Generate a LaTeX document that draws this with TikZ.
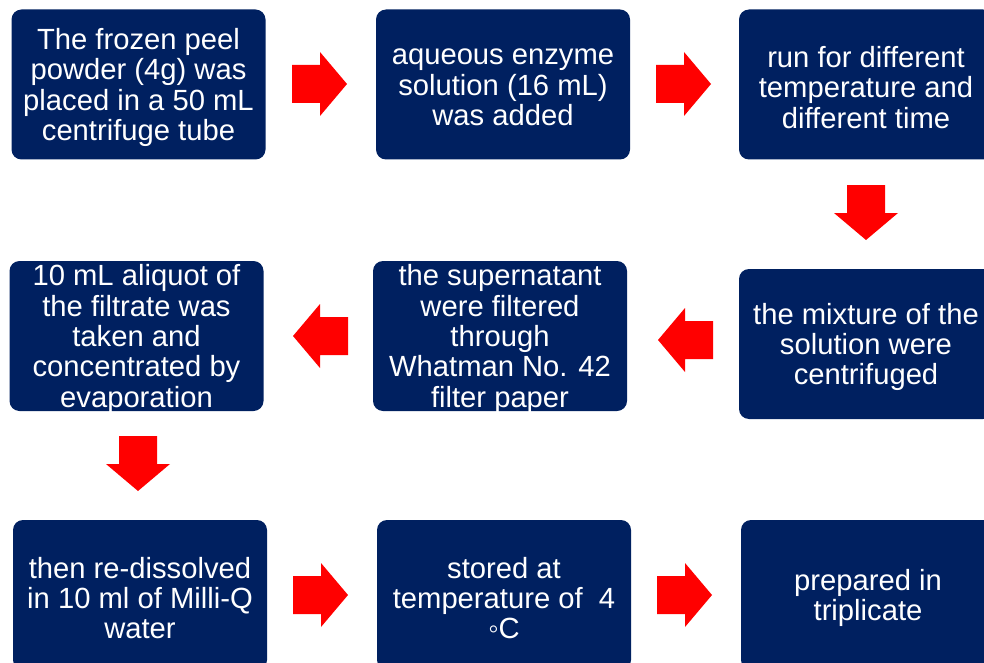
\documentclass[tikz,border=0pt]{standalone}
\usepackage{fontspec}
\setmainfont{Liberation Sans}
\definecolor{navy}{RGB}{0,32,96}
\definecolor{arrred}{RGB}{255,0,0}
\newcommand\blockarr[3]{\fill[arrred,shift={(#1,#2)},rotate=#3] (0,-19) -- (28,-19) -- (28,-32) -- (55,0) -- (28,32) -- (28,19) -- (0,19) -- cycle;}
\begin{document}
\begin{tikzpicture}[x=1pt,y=-1pt,
  stepbox/.style={fill=navy, rounded corners=10pt, inner sep=0pt,
    minimum width=254pt, minimum height=150pt},
  steptext/.style={text=white, align=center, inner sep=0pt,
    font=\fontsize{29.2}{30.3}\selectfont}]
\useasboundingbox (0,0) rectangle (984,663);
\clip (0,0) rectangle (984,663);
% boxes
\node[stepbox] (b1) at (138.5,84.5) {};
\node[stepbox] (b2) at (503,84.5) {};
\node[stepbox] (b3) at (866,84.5) {};
\node[stepbox] (b6) at (866,344) {};
\node[stepbox] (b5) at (500,336) {};
\node[stepbox] (b4) at (136.5,336) {};
\node[stepbox] (b7) at (140,595) {};
\node[stepbox] (b8) at (504,595) {};
\node[stepbox] (b9) at (868,595) {};
% texts
\node[steptext] (t1) at ([yshift=-3pt]b1.center) {The frozen peel\\powder (4g) was\\placed in a 50 mL\\centrifuge tube};
\node[steptext] (t2) at ([yshift=-3pt]b2.center) {aqueous enzyme\\solution (16 mL)\\was added};
\node[steptext] (t3) at ([yshift=-3pt]b3.center) {run for different\\temperature and\\different time};
\node[steptext] (t6) at ([yshift=-3pt]b6.center) {the mixture of the\\solution were\\centrifuged};
\node[steptext] (t5) at ([yshift=-3pt]b5.center) {the supernatant\\were filtered\\through\\Whatman No. 42\\filter paper};
\node[steptext] (t4) at ([yshift=-3pt]b4.center) {10 mL aliquot of\\the filtrate was\\taken and\\concentrated by\\evaporation};
\node[steptext] (t7) at ([yshift=-3pt]b7.center) {then re-dissolved\\in 10 ml of Milli-Q\\water};
\node[steptext] (t8) at ([yshift=-3pt]b8.center) {stored at\\temperature of\ \ 4\\◦C};
\node[steptext] (t9) at ([yshift=-3pt]b9.center) {prepared in\\triplicate};
% block arrows
\blockarr{292}{84}{0}
\blockarr{656}{84}{0}
\blockarr{866}{185}{-90}
\blockarr{713}{340}{180}
\blockarr{348}{336}{180}
\blockarr{138}{436}{-90}
\blockarr{293}{595}{0}
\blockarr{657}{595}{0}
\end{tikzpicture}
\end{document}
